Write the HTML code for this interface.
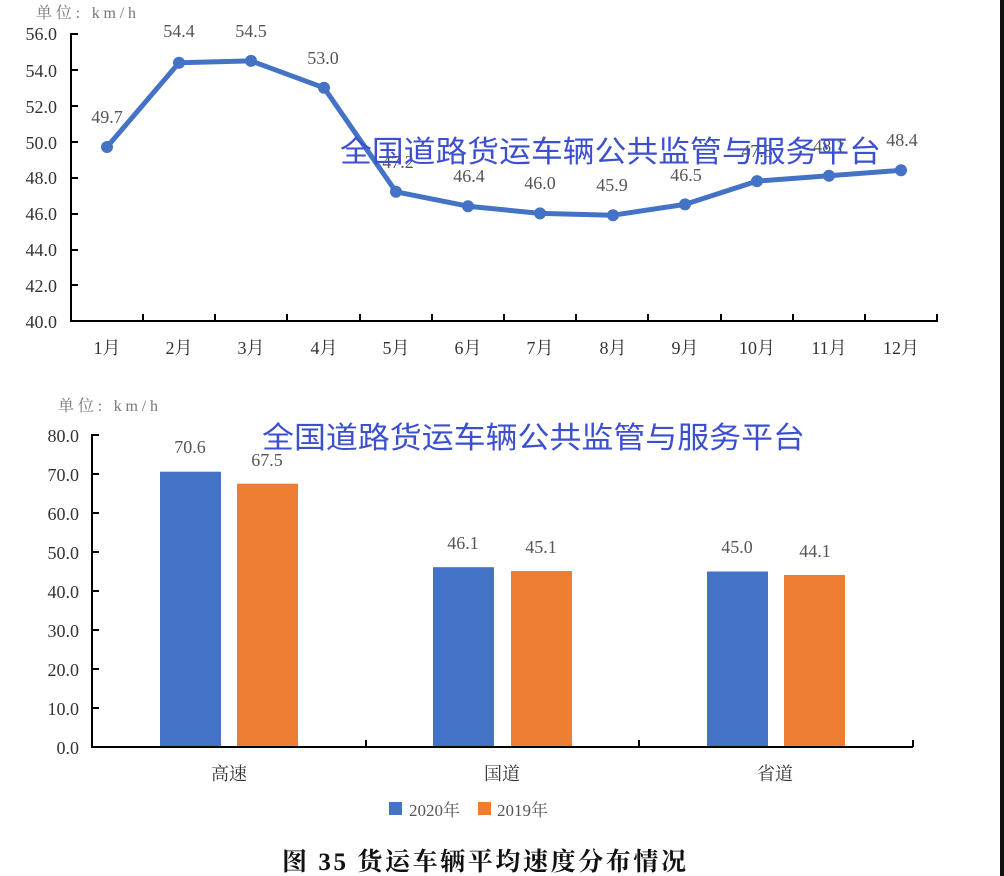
<!DOCTYPE html>
<html><head><meta charset="utf-8"><style>
html,body{margin:0;padding:0;background:#fff;}
svg{display:block;}
text{font-family:"Liberation Serif","Noto Serif CJK SC",serif;}
.wm{font-family:"Liberation Sans","Noto Sans CJK SC",sans-serif;fill:#3b4fd0;font-size:30px;}
</style></head><body>
<svg width="1004" height="876" viewBox="0 0 1004 876" xmlns="http://www.w3.org/2000/svg">
<rect x="0" y="0" width="1004" height="876" fill="#fff"/>
<rect x="1000" y="0" width="4" height="876" fill="#111"/>
<!-- Line chart -->
<text x="36" y="18" font-size="16" fill="#777" textLength="100">单位: km/h</text>
<g font-size="18" fill="#333" text-anchor="end">
<text x="57" y="40">56.0</text><text x="57" y="77">54.0</text><text x="57" y="113">52.0</text>
<text x="57" y="149">50.0</text><text x="57" y="184">48.0</text><text x="57" y="220">46.0</text>
<text x="57" y="256">44.0</text><text x="57" y="292">42.0</text><text x="57" y="328">40.0</text>
</g>
<g stroke="#000" stroke-width="2">
<line x1="71" y1="33" x2="71" y2="321"/>
<line x1="70" y1="321" x2="938" y2="321"/>
<line x1="71" y1="34" x2="78" y2="34"/><line x1="71" y1="70" x2="78" y2="70"/><line x1="71" y1="106" x2="78" y2="106"/>
<line x1="71" y1="142" x2="78" y2="142"/><line x1="71" y1="178" x2="78" y2="178"/><line x1="71" y1="214" x2="78" y2="214"/>
<line x1="71" y1="250" x2="78" y2="250"/><line x1="71" y1="285" x2="78" y2="285"/>
<line x1="143" y1="314" x2="143" y2="321"/><line x1="215" y1="314" x2="215" y2="321"/><line x1="287" y1="314" x2="287" y2="321"/>
<line x1="360" y1="314" x2="360" y2="321"/><line x1="432" y1="314" x2="432" y2="321"/><line x1="504" y1="314" x2="504" y2="321"/>
<line x1="576" y1="314" x2="576" y2="321"/><line x1="648" y1="314" x2="648" y2="321"/><line x1="721" y1="314" x2="721" y2="321"/>
<line x1="793" y1="314" x2="793" y2="321"/><line x1="865" y1="314" x2="865" y2="321"/><line x1="937" y1="314" x2="937" y2="321"/>
</g>
<g font-size="18" fill="#333" text-anchor="middle">
<text x="107" y="354">1月</text><text x="179" y="354">2月</text><text x="251" y="354">3月</text><text x="324" y="354">4月</text>
<text x="396" y="354">5月</text><text x="468" y="354">6月</text><text x="540" y="354">7月</text><text x="613" y="354">8月</text>
<text x="685" y="354">9月</text><text x="757" y="354">10月</text><text x="829" y="354">11月</text><text x="901" y="354">12月</text>
</g>
<polyline fill="none" stroke="#4472c4" stroke-width="5" stroke-linejoin="round" points="107,147 179,62.7 251,60.9 324,87.8 396,191.8 468,206.2 540,213.4 613,215.2 685,204.4 757,181.1 829,175.7 901,170.3"/>
<g fill="#4472c4">
<circle cx="107" cy="147" r="6"/><circle cx="179" cy="62.7" r="6"/><circle cx="251" cy="60.9" r="6"/><circle cx="324" cy="87.8" r="6"/>
<circle cx="396" cy="191.8" r="6"/><circle cx="468" cy="206.2" r="6"/><circle cx="540" cy="213.4" r="6"/><circle cx="613" cy="215.2" r="6"/>
<circle cx="685" cy="204.4" r="6"/><circle cx="757" cy="181.1" r="6"/><circle cx="829" cy="175.7" r="6"/><circle cx="901" cy="170.3" r="6"/>
</g>
<g font-size="18" fill="#555" text-anchor="middle">
<text x="107" y="123">49.7</text><text x="179" y="37">54.4</text><text x="251" y="37">54.5</text><text x="323" y="64">53.0</text>
<text x="398" y="168">47.2</text><text x="469" y="182">46.4</text><text x="540" y="189">46.0</text><text x="612" y="191">45.9</text>
<text x="686" y="181">46.5</text><text x="757" y="157">47.8</text><text x="829" y="152">48.1</text><text x="902" y="146">48.4</text>
</g>
<text class="wm" x="340" y="162" textLength="541" lengthAdjust="spacingAndGlyphs">全国道路货运车辆公共监管与服务平台</text>
<!-- Bar chart -->
<text x="58" y="411" font-size="16" fill="#777" textLength="100">单位: km/h</text>
<g font-size="18" fill="#333" text-anchor="end">
<text x="79" y="442">80.0</text><text x="79" y="481">70.0</text><text x="79" y="520">60.0</text>
<text x="79" y="559">50.0</text><text x="79" y="598">40.0</text><text x="79" y="637">30.0</text>
<text x="79" y="676">20.0</text><text x="79" y="715">10.0</text><text x="79" y="754">0.0</text>
</g>
<rect x="160" y="471.7" width="61" height="275.3" fill="#4472c4"/>
<rect x="237" y="483.7" width="61" height="263.3" fill="#ed7d31"/>
<rect x="433" y="567.2" width="61" height="179.8" fill="#4472c4"/>
<rect x="511" y="571.1" width="61" height="175.9" fill="#ed7d31"/>
<rect x="707" y="571.5" width="61" height="175.5" fill="#4472c4"/>
<rect x="784" y="575" width="61" height="172" fill="#ed7d31"/>
<g stroke="#000" stroke-width="2">
<line x1="92" y1="434" x2="92" y2="748"/>
<line x1="91" y1="747" x2="913" y2="747"/>
<line x1="92" y1="435" x2="99" y2="435"/><line x1="92" y1="474" x2="99" y2="474"/><line x1="92" y1="513" x2="99" y2="513"/>
<line x1="92" y1="552" x2="99" y2="552"/><line x1="92" y1="591" x2="99" y2="591"/><line x1="92" y1="630" x2="99" y2="630"/>
<line x1="92" y1="669" x2="99" y2="669"/><line x1="92" y1="708" x2="99" y2="708"/>
<line x1="366" y1="740" x2="366" y2="747"/><line x1="639" y1="740" x2="639" y2="747"/><line x1="913" y1="740" x2="913" y2="747"/>
</g>
<g font-size="18" fill="#555" text-anchor="middle">
<text x="190" y="453">70.6</text><text x="267" y="466">67.5</text>
<text x="463" y="549">46.1</text><text x="541" y="553">45.1</text>
<text x="737" y="553">45.0</text><text x="815" y="557">44.1</text>
</g>
<g font-size="18" fill="#333" text-anchor="middle">
<text x="229" y="780">高速</text><text x="502" y="780">国道</text><text x="775" y="780">省道</text>
</g>
<rect x="389" y="802" width="13" height="13" fill="#4472c4"/>
<text x="409" y="816" font-size="17" fill="#555">2020年</text>
<rect x="478" y="802" width="13" height="13" fill="#ed7d31"/>
<text x="497" y="816" font-size="17" fill="#555">2019年</text>
<text class="wm" x="262" y="448" textLength="543" lengthAdjust="spacingAndGlyphs">全国道路货运车辆公共监管与服务平台</text>
<text x="282" y="870" font-size="25" font-weight="bold" fill="#111" textLength="404">图 35  货运车辆平均速度分布情况</text>
</svg>
</body></html>
